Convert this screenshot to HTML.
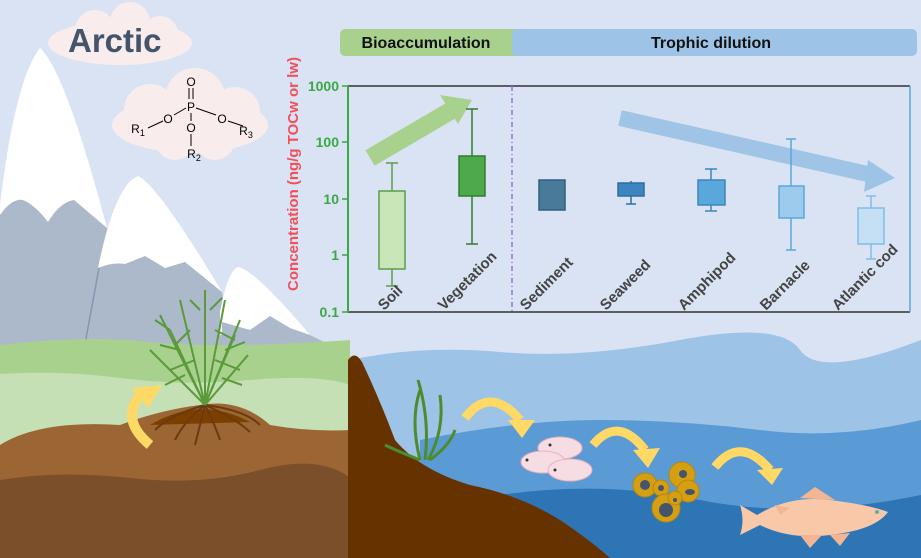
<!DOCTYPE html>
<html><head><meta charset="utf-8"><style>
html,body{margin:0;padding:0;background:#dbe4f4}
svg{display:block}
text{font-family:"Liberation Sans",sans-serif}
</style></head><body>
<svg width="921" height="558" viewBox="0 0 921 558" xmlns="http://www.w3.org/2000/svg">
<rect width="921" height="558" fill="#dae3f3"/>
<!-- Arctic cloud -->
<g fill="#f8ecec">
<ellipse cx="120" cy="43" rx="72" ry="22"/>
<circle cx="95" cy="30" r="20"/><circle cx="130" cy="22" r="20"/><circle cx="160" cy="34" r="18"/>
</g>
<text x="68" y="52" font-size="33" font-weight="bold" fill="#44546a">Arctic</text>
<!-- mountains -->
<path d="M0,205 Q15,80 40,48 Q65,70 107,228 L0,228 Z" fill="#ffffff"/>
<path d="M0,215 Q12,198 23,200 Q35,205 48,222 Q60,202 74,200 L107,228 L110,360 L0,360 Z" fill="#acb9ca"/>
<path d="M98,268 Q115,185 138,176 Q158,185 222,292 L98,292 Z" fill="#ffffff"/>
<path d="M98,268 Q112,262 125,264 L145,256 L165,268 L185,262 L222,292 L235,360 L82,360 Z" fill="#acb9ca"/>
<path d="M220,312 Q228,270 238,267 Q255,270 310,335 L220,335 Z" fill="#ffffff"/>
<path d="M222,322 L250,330 L270,316 L290,328 L310,335 L350,355 L350,362 L222,362 Z" fill="#acb9ca"/>
<line x1="99" y1="268" x2="82" y2="360" stroke="#8496b0" stroke-width="1.5"/>
<!-- grass and soil -->
<path d="M0,345 Q80,335 150,342 T350,340 L350,558 L0,558 Z" fill="#a9d18e"/>
<path d="M0,374 Q60,370 120,378 T250,380 T350,385 L350,558 L0,558 Z" fill="#c5e0b4"/>
<path d="M0,445 Q40,420 120,425 Q160,410 200,405 Q240,398 270,425 Q310,432 350,430 L350,558 L0,558 Z" fill="#9c6634"/>
<path d="M0,480 Q60,470 130,478 T260,470 T350,478 L350,558 L0,558 Z" fill="#7a4f29"/>
<path d="M150,425 Q200,395 250,422 Z" fill="#7b3f00"/>
<g stroke="#6b3a10" stroke-width="2" fill="none">
<path d="M205,405 Q170,415 155,430"/><path d="M205,405 Q185,420 175,440"/><path d="M205,405 Q200,425 195,445"/>
<path d="M205,405 Q215,425 220,440"/><path d="M205,405 Q235,418 250,432"/><path d="M205,405 Q245,410 260,425"/>
</g>
<!-- plant -->
<g stroke="#5a9a3a" stroke-width="2" fill="none">
<path d="M205,405 L205,290"/><path d="M205,405 L160,315"/><path d="M205,405 L240,320"/><path d="M205,405 L180,300"/><path d="M205,405 L225,300"/>
<path d="M205,405 L150,350"/><path d="M205,405 L248,355"/><path d="M205,405 L170,330"/><path d="M205,405 L235,335"/>
<path d="M170,330 L155,320"/><path d="M190,330 L175,345"/><path d="M215,330 L235,340"/><path d="M195,360 L170,370"/><path d="M215,360 L240,370"/><path d="M200,310 L190,300"/><path d="M210,310 L222,298"/>
<path d="M180,350 L160,345"/><path d="M225,350 L245,342"/><path d="M185,375 L165,385"/><path d="M222,378 L242,385"/>
</g>
<!-- yellow arrow land -->
<path d="M150,445 Q120,420 140,395" stroke="#ffd966" stroke-width="10" fill="none"/>
<polygon points="132,388 162,385 148,408" fill="#ffd966"/>
<!-- ocean -->
<path d="M350,360 Q420,345 500,352 T680,340 T800,350 T921,340 L921,558 L350,558 Z" fill="#9dc3e6"/>
<path d="M420,440 Q520,420 600,420 T760,430 T921,420 L921,558 L420,558 Z" fill="#5b9bd5"/>
<path d="M500,495 Q600,480 700,500 T921,495 L921,558 L500,558 Z" fill="#2e75b6"/>
<path d="M348,360 Q355,350 362,362 Q380,400 395,440 Q420,470 470,485 Q520,495 560,520 Q590,540 610,558 L348,558 Z" fill="#663300"/>
<!-- seaweed -->
<g stroke="#4c8c2c" stroke-width="3" fill="none">
<path d="M420,460 Q410,420 420,390"/><path d="M425,460 Q430,420 418,380"/><path d="M428,460 Q445,430 440,395"/><path d="M430,460 Q450,445 455,430"/><path d="M420,460 Q395,450 385,445"/>
</g>
<!-- yellow arrows water -->
<g stroke="#ffd966" stroke-width="9" fill="none">
<path d="M465,418 Q490,385 520,420"/><path d="M593,445 Q618,415 645,450"/><path d="M715,467 Q740,435 770,470"/>
</g>
<polygon points="508,420 535,420 522,438" fill="#ffd966"/>
<polygon points="633,450 660,448 648,468" fill="#ffd966"/>
<polygon points="757,470 783,468 772,485" fill="#ffd966"/>
<!-- amphipods -->
<g fill="#f6dde3" stroke="#e8b0bc">
<ellipse cx="560" cy="448" rx="22" ry="11"/><ellipse cx="543" cy="462" rx="22" ry="11"/><ellipse cx="570" cy="470" rx="22" ry="11"/>
</g>
<g fill="#333"><circle cx="550" cy="445" r="1.5"/><circle cx="527" cy="460" r="1.5"/><circle cx="555" cy="470" r="1.5"/></g>
<!-- barnacles -->
<g fill="#d4a012" stroke="#b8860b">
<circle cx="645" cy="485" r="12"/><circle cx="661" cy="488" r="8"/><circle cx="666" cy="508" r="14"/><circle cx="682" cy="475" r="13"/><circle cx="688" cy="491" r="11"/><circle cx="675" cy="498" r="7"/>
</g>
<g fill="#44546a"><circle cx="645" cy="485" r="5"/><circle cx="661" cy="488" r="3"/><circle cx="666" cy="510" r="7"/><circle cx="683" cy="474" r="4"/><ellipse cx="690" cy="492" rx="5" ry="3"/><circle cx="675" cy="500" r="2"/></g>
<!-- fish -->
<path d="M740,505 L757,515 Q790,495 830,500 Q870,505 888,512 Q875,530 830,535 Q790,540 760,525 L740,535 Q745,520 740,505 Z" fill="#f8c8a8"/>
<path d="M800,498 L815,487 L835,500 Z M775,505 L790,508 L780,515 Z M800,535 L810,548 L822,535 Z M830,535 L840,546 L850,533 Z" fill="#f3b592"/>
<circle cx="877" cy="512" r="2" fill="#6aa"/>
<!-- molecule cloud -->
<g fill="#f8ecec">
<ellipse cx="190" cy="125" rx="78" ry="28"/>
<circle cx="150" cy="110" r="26"/><circle cx="195" cy="98" r="30"/><circle cx="235" cy="112" r="25"/><circle cx="175" cy="140" r="20"/><circle cx="215" cy="140" r="20"/>
</g>
<g font-size="12" fill="#000" text-anchor="middle">
<text x="191" y="86">O</text><text x="191" y="111">P</text>
<text x="168" y="123">O</text><text x="222" y="123">O</text><text x="191" y="132">O</text>
<text x="138" y="133">R<tspan font-size="9" dy="3">1</tspan></text>
<text x="246" y="135">R<tspan font-size="9" dy="3">3</tspan></text>
<text x="194" y="158">R<tspan font-size="9" dy="3">2</tspan></text>
</g>
<g stroke="#000" stroke-width="1" fill="none">
<line x1="189" y1="88" x2="189" y2="99"/><line x1="193" y1="88" x2="193" y2="99"/>
<line x1="186" y1="108" x2="174" y2="115"/><line x1="196" y1="108" x2="216" y2="115"/><line x1="191" y1="113" x2="191" y2="121"/>
<line x1="163" y1="121" x2="148" y2="128"/><line x1="228" y1="121" x2="243" y2="126"/><line x1="191" y1="134" x2="191" y2="146"/>
</g>
<!-- header -->
<rect x="340" y="29" width="180" height="27" rx="5" fill="#a9d18e"/>
<rect x="512" y="29" width="405" height="27" rx="5" fill="#9dc3e6"/>
<text x="426" y="48" font-size="16" font-weight="bold" text-anchor="middle" fill="#111">Bioaccumulation</text>
<text x="711" y="48" font-size="16" font-weight="bold" text-anchor="middle" fill="#111">Trophic dilution</text>
<!-- axes -->
<line x1="348" y1="86" x2="910" y2="86" stroke="#333" stroke-width="1.5"/>
<line x1="348" y1="312" x2="910" y2="312" stroke="#333" stroke-width="1.5"/>
<line x1="348" y1="86" x2="348" y2="312" stroke="#3aa845" stroke-width="2"/>
<line x1="910" y1="86" x2="910" y2="312" stroke="#5ba7dc" stroke-width="1.5"/>
<line x1="512" y1="86" x2="512" y2="312" stroke="#9b6fd0" stroke-width="1.5" stroke-dasharray="5,3,1,3"/>
<g stroke="#3aa845" stroke-width="1.5">
<line x1="342" y1="86" x2="348" y2="86"/><line x1="342" y1="142" x2="348" y2="142"/><line x1="342" y1="199" x2="348" y2="199"/><line x1="342" y1="255" x2="348" y2="255"/><line x1="342" y1="312" x2="348" y2="312"/>
</g>
<g font-size="14" font-weight="bold" fill="#3aa845" text-anchor="end">
<text x="339" y="91">1000</text><text x="339" y="147">100</text><text x="339" y="204">10</text><text x="339" y="260">1</text><text x="339" y="317">0.1</text>
</g>
<text transform="translate(298,174) rotate(-90)" font-size="15" font-weight="bold" fill="#f0505a" text-anchor="middle">Concentration (ng/g TOCw or lw)</text>
<!-- trend arrows -->
<line x1="370" y1="158" x2="452" y2="110" stroke="#a9d18e" stroke-width="18"/>
<polygon points="440,95 472,100 458,124" fill="#a9d18e"/>
<line x1="620" y1="118" x2="872" y2="175" stroke="#9dc3e6" stroke-width="16" opacity="0.95"/>
<polygon points="868,160 895,178 864,192" fill="#9dc3e6"/>
<!-- boxes -->
<g stroke-width="1.5">
<g stroke="#5a9e4a"><line x1="392" y1="163" x2="392" y2="286"/><line x1="386" y1="163" x2="398" y2="163"/><line x1="386" y1="286" x2="398" y2="286"/><rect x="379" y="191" width="26" height="78" fill="#c8e6b8"/></g>
<g stroke="#2e7d32"><line x1="472" y1="109" x2="472" y2="244"/><line x1="466" y1="109" x2="478" y2="109"/><line x1="466" y1="244" x2="478" y2="244"/><rect x="459" y="156" width="26" height="40" fill="#4ea94a"/></g>
<g stroke="#2f5f7f"><rect x="539" y="180" width="26" height="30" fill="#4a7a9a"/></g>
<g stroke="#2d6ea0"><line x1="631" y1="181" x2="631" y2="204"/><line x1="626" y1="204" x2="636" y2="204"/><rect x="618" y="183" width="26" height="13" fill="#3d85c0"/></g>
<g stroke="#3d85c0"><line x1="711" y1="169" x2="711" y2="211"/><line x1="705" y1="169" x2="717" y2="169"/><line x1="705" y1="211" x2="717" y2="211"/><rect x="698" y="180" width="27" height="25" fill="#5aa7dc"/></g>
<g stroke="#5aa7dc"><line x1="791" y1="139" x2="791" y2="250"/><line x1="786" y1="139" x2="796" y2="139"/><line x1="786" y1="250" x2="796" y2="250"/><rect x="779" y="186" width="25" height="32" fill="#9dcbed"/></g>
<g stroke="#7fbde8"><line x1="871" y1="196" x2="871" y2="259"/><line x1="866" y1="196" x2="876" y2="196"/><line x1="866" y1="259" x2="876" y2="259"/><rect x="858" y="208" width="26" height="36" fill="#c5e0f5"/></g>
</g>
<!-- x labels -->
<g font-size="15" font-weight="bold" fill="#444">
<text transform="translate(384,311) rotate(-45)">Soil</text>
<text transform="translate(444,311) rotate(-45)">Vegetation</text>
<text transform="translate(526,311) rotate(-45)">Sediment</text>
<text transform="translate(606,311) rotate(-45)">Seaweed</text>
<text transform="translate(684,311) rotate(-45)">Amphipod</text>
<text transform="translate(766,311) rotate(-45)">Barnacle</text>
<text transform="translate(838,311) rotate(-45)">Atlantic cod</text>
</g>
</svg>
</body></html>
